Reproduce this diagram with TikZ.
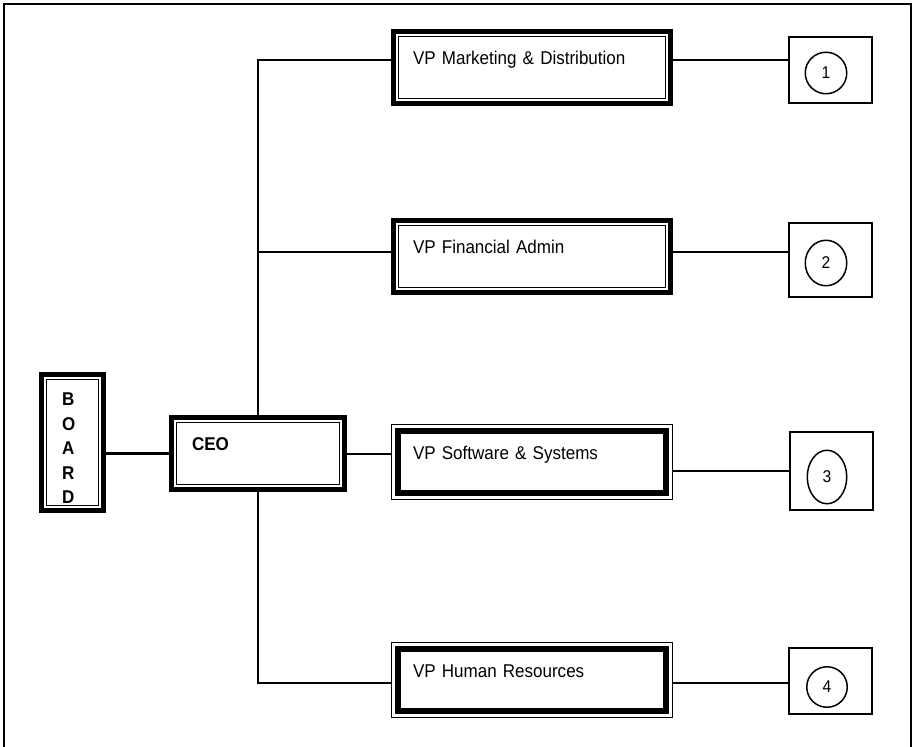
\documentclass[tikz,border=0pt]{standalone}
\usepackage{fontspec}
\setmainfont{Liberation Sans}[FakeStretch=0.92]
\usetikzlibrary{shapes.geometric}

\begin{document}
\begin{tikzpicture}[x=1pt, y=-1pt,
    thickthin/.style={draw, line width=5pt, path picture={\draw[line width=1.2pt] ([shift={(4.8pt,-4.8pt)}]path picture bounding box.north west) rectangle ([shift={(-4.8pt,4.8pt)}]path picture bounding box.south east);}},
    thinthick/.style={draw, line width=1pt, path picture={\draw[line width=5.5pt] ([shift={(6.5pt,-6.5pt)}]path picture bounding box.north west) rectangle ([shift={(-6.5pt,6.5pt)}]path picture bounding box.south east);}},
    vpA/.style={thickthin, font=\fontsize{18.5pt}{21pt}\selectfont, align=left, text width=238pt, inner xsep=19.5pt, inner ysep=0pt, text height=33pt, text depth=39pt},
    vpB/.style={thinthick, font=\fontsize{18.5pt}{21pt}\selectfont, align=left, text width=238pt, inner xsep=21.5pt, inner ysep=0pt, text height=35pt, text depth=40pt},
    ceobox/.style={thickthin, font=\fontsize{18.5pt}{21pt}\selectfont\bfseries, align=left, text width=132pt, inner xsep=20.5pt, inner ysep=0pt, text height=33pt, text depth=39pt},
    boardbox/.style={thickthin, font=\fontsize{18.5pt}{24.5pt}\selectfont\bfseries, align=left, text width=21pt, inner xsep=20.5pt, inner ysep=0pt, text height=31pt, text depth=105pt},
    numbox/.style={draw, line width=2pt, minimum width=83pt, inner sep=0pt},
    numcirc/.style={ellipse, draw, line width=1.5pt, inner sep=0pt, font=\fontsize{17pt}{19pt}\selectfont},
    conn/.style={line width=2pt},
    boardline/.style={line width=3pt}
]
\useasboundingbox (0,0) rectangle (913,747);

% Frame
\draw[line width=2pt] (4,747) -- (4,4) -- (911,4) -- (911,747);

% Board and CEO
\node[boardbox] (board) at (72.5,442.5) {B\\O\\A\\R\\D};
\node[ceobox] (ceo) at (258,453.5) {CEO};

% Vice presidents
\node[vpA] (mkt) at (532,67.5) {VP Marketing \& Distribution};
\node[vpA] (fin) at (532,256.5) {VP Financial Admin};
\node[vpB] (sw) at (532,462) {VP Software \& Systems};
\node[vpB] (hum) at (532,680) {VP Human Resources};

% Numbered boxes
\node[numbox, minimum height=66pt] (num1) at (830.5,70) {};
\node[numbox, minimum height=74pt] (num2) at (830.5,260) {};
\node[numbox, minimum height=78pt] (num3) at (831.5,471) {};
\node[numbox, minimum height=66pt] (num4) at (830,681) {};
\node[numcirc, minimum width=41.5pt, minimum height=41.5pt] (c1) at (826,73) {1};
\node[numcirc, minimum width=41.5pt, minimum height=45.5pt] (c2) at (826,263) {2};
\node[numcirc, minimum width=39.5pt, minimum height=53.5pt] (c3) at (827,477) {3};
\node[numcirc, minimum width=40.5pt, minimum height=40.5pt] (c4) at (827,687) {4};

% Trunk junctions
\coordinate (jm) at (258,59.5);
\coordinate (jf) at (258,252);
\coordinate (jh) at (258,683);

% Connectors
\draw[boardline] (board.east |- ceo.west) -- (ceo.west);
\draw[conn] (ceo.north) -- (jm) -- (jm -| mkt.west);
\draw[conn] (jf) -- (jf -| fin.west);
\draw[conn] (ceo.south) -- (jh) -- (jh -| hum.west);
\draw[conn] (ceo.east) -- (ceo.east -| sw.west);

\draw[conn] (jm -| mkt.east) -- (jm -| num1.west);
\draw[conn] (jf -| fin.east) -- (jf -| num2.west);
\draw[conn] (num3.west -| sw.east) -- (num3.west);
\draw[conn] (jh -| hum.east) -- (jh -| num4.west);

\end{tikzpicture}
\end{document}
